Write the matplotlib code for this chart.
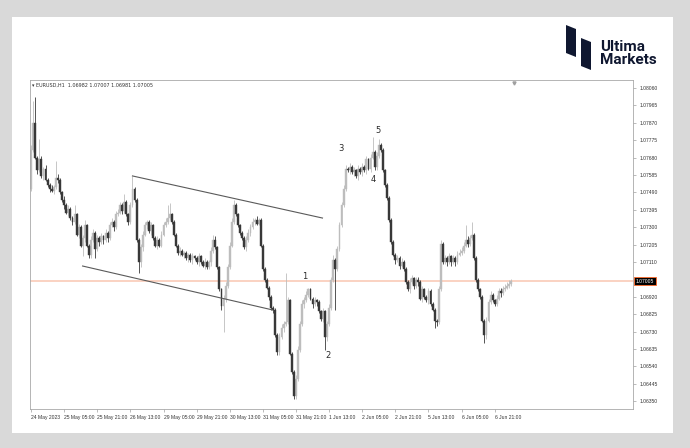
import matplotlib
matplotlib.use("Agg")
import matplotlib.pyplot as plt
import matplotlib.transforms as mtransforms
from matplotlib.patches import Rectangle, Polygon
import numpy as np

plt.rcParams["font.family"] = ["Liberation Sans", "DejaVu Sans"]

# EURUSD H1 candles (price)
first_open = 1.0751
closes = [
    1.0772, 1.0787, 1.0768, 1.0761, 1.0767, 1.0758, 1.0762, 1.0756, 1.0753, 1.0751,
    1.0750, 1.0752, 1.0757, 1.0756, 1.0749, 1.0745, 1.0742, 1.0738, 1.0740, 1.0735,
    1.0733, 1.0737, 1.0726, 1.0730, 1.0720, 1.0724, 1.0731, 1.0720, 1.0715, 1.0723,
    1.0727, 1.0718, 1.0724, 1.0722, 1.0725, 1.0723, 1.0727, 1.0724, 1.0731, 1.0733,
    1.0730, 1.0737, 1.0738, 1.0742, 1.0739, 1.0744, 1.0737, 1.0733, 1.0742, 1.0751,
    1.0745, 1.0723, 1.0711, 1.0719, 1.0726, 1.0731, 1.0733, 1.0728, 1.0731, 1.0724,
    1.0720, 1.0723, 1.0720, 1.0726, 1.0731, 1.0733, 1.0735, 1.0737, 1.0733, 1.0726,
    1.0720, 1.0716, 1.0717, 1.0715, 1.0716, 1.0713, 1.0715, 1.0712, 1.0714, 1.0713,
    1.0711, 1.0714, 1.0711, 1.0709, 1.0711, 1.0708, 1.0711, 1.0717, 1.0723, 1.0719,
    1.0708, 1.0696, 1.0687, 1.0691, 1.0698, 1.0708, 1.0720, 1.0733, 1.0742, 1.0737,
    1.0731, 1.0727, 1.0724, 1.0719, 1.0723, 1.0727, 1.0730, 1.0733, 1.0734, 1.0732,
    1.0734, 1.0720, 1.0707, 1.0701, 1.0697, 1.0692, 1.0686, 1.0685, 1.0671, 1.0662,
    1.0670, 1.0675, 1.0677, 1.0678, 1.0690, 1.0661, 1.0651, 1.0638, 1.0647, 1.0663,
    1.0677, 1.0688, 1.0690, 1.0693, 1.0696, 1.0691, 1.0688, 1.0690, 1.0689, 1.0684,
    1.0680, 1.0684, 1.0670, 1.0677, 1.0686, 1.0701, 1.0712, 1.0707, 1.0718, 1.0731,
    1.0742, 1.0751, 1.0762, 1.0761, 1.0763, 1.0760, 1.0761, 1.0758, 1.0762, 1.0760,
    1.0763, 1.0761, 1.0767, 1.0762, 1.0768, 1.0771, 1.0763, 1.0769, 1.0775, 1.0772,
    1.0761, 1.0753, 1.0746, 1.0734, 1.0722, 1.0715, 1.0712, 1.0713, 1.0709, 1.0711,
    1.0707, 1.0700, 1.0696, 1.0700, 1.0702, 1.0698, 1.0701, 1.0700, 1.0691, 1.0696,
    1.0692, 1.0690, 1.0695, 1.0688, 1.0685, 1.0679, 1.0678, 1.0696, 1.0721, 1.0711,
    1.0713, 1.0711, 1.0714, 1.0711, 1.0713, 1.0711, 1.0715, 1.0716, 1.0717, 1.0720,
    1.0723, 1.0721, 1.0724, 1.0726, 1.0713, 1.0701, 1.0696, 1.0692, 1.0679, 1.0671,
    1.0679, 1.0689, 1.0693, 1.0690, 1.0688, 1.0691, 1.0695, 1.0694, 1.0696, 1.0697,
    1.0698, 1.0699, 1.07005,
]
# wick lengths beyond the body, in pips
upper_wick = [
    3, 12, 14, 1, 11, 2, 1, 2, 1, 1, 2, 1, 9, 2, 1, 1, 2, 1, 2, 1,
    1, 5, 1, 2, 1, 2, 3, 1, 1, 2, 2, 1, 2, 1, 2, 1, 2, 1, 2, 2,
    1, 2, 2, 2, 1, 4, 1, 1, 2, 7, 1, 1, 1, 2, 2, 2, 1, 1, 2, 1,
    1, 2, 1, 2, 2, 2, 7, 6, 1, 1, 1, 1, 2, 1, 1, 1, 1, 1, 2, 1,
    1, 2, 1, 1, 2, 1, 1, 2, 3, 2, 1, 1, 1, 2, 2, 2, 2, 2, 3, 1,
    1, 1, 1, 1, 2, 2, 2, 2, 1, 2, 1, 1, 1, 1, 1, 1, 1, 1, 1, 1,
    2, 2, 2, 27, 2, 1, 1, 1, 2, 2, 2, 2, 2, 2, 1, 1, 1, 2, 1, 1,
    1, 2, 1, 2, 2, 2, 3, 1, 2, 2, 2, 2, 2, 1, 2, 1, 2, 1, 2, 1,
    2, 1, 2, 1, 2, 8, 1, 2, 3, 1, 1, 1, 1, 1, 1, 1, 1, 2, 1, 2,
    1, 1, 1, 2, 2, 1, 2, 2, 1, 2, 1, 1, 2, 1, 1, 1, 1, 2, 2, 1,
    2, 1, 2, 1, 2, 1, 2, 2, 2, 2, 8, 2, 2, 7, 1, 1, 1, 1, 1, 1,
    2, 2, 2, 1, 1, 2, 2, 2, 2, 2, 2, 2, 1,
]
lower_wick = [
    1, 1, 1, 2, 1, 1, 2, 1, 1, 2, 1, 2, 1, 2, 1, 1, 2, 1, 2, 1,
    2, 1, 1, 2, 1, 6, 2, 1, 2, 2, 1, 5, 1, 2, 1, 2, 1, 2, 1, 1,
    2, 1, 1, 1, 2, 1, 1, 2, 1, 1, 1, 1, 6, 3, 2, 1, 2, 1, 2, 1,
    1, 2, 1, 1, 1, 1, 1, 1, 1, 1, 1, 1, 2, 1, 2, 1, 2, 1, 2, 1,
    1, 2, 1, 1, 2, 1, 1, 2, 1, 1, 1, 1, 2, 14, 2, 1, 1, 1, 1, 1,
    1, 1, 1, 1, 2, 1, 2, 1, 2, 1, 1, 1, 1, 1, 1, 2, 1, 2, 1, 2,
    2, 1, 2, 1, 1, 1, 1, 2, 2, 1, 1, 1, 2, 1, 1, 1, 2, 1, 2, 1,
    1, 2, 7, 2, 1, 1, 1, 22, 1, 1, 1, 1, 1, 1, 2, 1, 2, 1, 2, 1,
    2, 1, 2, 1, 2, 1, 2, 2, 1, 1, 1, 1, 1, 1, 1, 1, 2, 1, 2, 1,
    1, 1, 1, 2, 1, 2, 1, 2, 1, 2, 1, 1, 2, 1, 1, 4, 2, 1, 1, 1,
    1, 2, 1, 2, 1, 2, 1, 1, 1, 1, 1, 2, 1, 1, 1, 1, 1, 1, 1, 4,
    2, 1, 1, 1, 1, 1, 1, 2, 1, 1, 1, 1, 1,
]

date_labels = ["24 May 2023", "25 May 05:00", "25 May 21:00", "26 May 13:00",
               "29 May 05:00", "29 May 21:00", "30 May 13:00", "31 May 05:00",
               "31 May 21:00", "1 Jun 13:00", "2 Jun 05:00", "2 Jun 21:00",
               "5 Jun 13:00", "6 Jun 05:00", "6 Jun 21:00"]
price_ticks = ["1.08060", "1.07965", "1.07870", "1.07775", "1.07680", "1.07585",
               "1.07490", "1.07395", "1.07300", "1.07205", "1.07110", "1.06920",
               "1.06825", "1.06730", "1.06635", "1.06540", "1.06445", "1.06350"]
last_price = 1.07005
header = "\u25be EURUSD,H1  1.06982 1.07007 1.06981 1.07005"

# channel lines (bar index, price)
upper_channel = ([49.0, 140.8], [1.0758, 1.0735])
lower_channel = ([24.9, 116.7], [1.07088, 1.06848])
# wave labels
wave_names = ["1", "2", "3", "4", "5"]
wave_bars = [132.1, 143.7, 149.5, 165.5, 167.4]
wave_prices = [1.0703, 1.0660, 1.0773, 1.0756, 1.0783]

closes = np.array(closes)
opens = np.concatenate([[first_open], closes[:-1]])
highs = np.maximum(opens, closes) + np.array(upper_wick) * 0.0001
lows = np.minimum(opens, closes) - np.array(lower_wick) * 0.0001
idx = np.arange(len(closes))
up = closes >= opens

bull = "#bdbdbd"
bear = "#383838"

fig = plt.figure(figsize=(6.9, 4.48), dpi=100)
fig.patch.set_facecolor("#d9d9d9")

bg = fig.add_axes([0, 0, 1, 1])
bg.set_xlim(0, 690)
bg.set_ylim(448, 0)
bg.axis("off")
bg.add_patch(Rectangle((12, 17), 661, 416, facecolor="white", edgecolor="none"))
navy = "#0f1730"
bg.add_patch(Polygon([(566, 25), (576, 29), (576, 57), (566, 53)], closed=True,
                     facecolor=navy, edgecolor="none"))
bg.add_patch(Polygon([(581, 38), (591, 42), (591, 70), (581, 66)], closed=True,
                     facecolor=navy, edgecolor="none"))
bg.text(600, 47, "Ultima", fontsize=11, fontweight="semibold", color=navy,
        family="Roboto", va="center", ha="left")
bg.text(600, 60, "Markets", fontsize=11, fontweight="semibold", color=navy,
        family="Roboto", va="center", ha="left")

ax = fig.add_axes([30 / 690, 1 - 409 / 448, 603 / 690, 329 / 448])
ax.set_facecolor("white")
ax.set_xlim(-0.5, 290.8)
ax.set_ylim(1.06307, 1.08104)

# price line
ax.axhline(last_price, color="#f9c6b1", lw=1.1, zorder=1)

# candles
ax.vlines(idx[up], lows[up], highs[up], color=bull, lw=0.6, zorder=2)
ax.vlines(idx[~up], lows[~up], highs[~up], color=bear, lw=0.6, zorder=3)
body_h = np.abs(closes - opens)
body_b = np.minimum(opens, closes)
ax.bar(idx[up], body_h[up], bottom=body_b[up], width=0.9, color=bull,
       edgecolor=bull, lw=0.3, zorder=2)
ax.bar(idx[~up], body_h[~up], bottom=body_b[~up], width=0.9, color=bear,
       edgecolor=bear, lw=0.3, zorder=3)

# channel
ax.plot(*upper_channel, color="#5a5a5a", lw=0.8, zorder=4)
ax.plot(*lower_channel, color="#5a5a5a", lw=0.8, zorder=4)

for name, b, p in zip(wave_names, wave_bars, wave_prices):
    ax.text(b, p, name, fontsize=6, color="#2a2a2a", ha="center", va="center",
            family="DejaVu Sans", zorder=5)

# axes styling
for s in ax.spines.values():
    s.set_color("#a8a8a8")
    s.set_linewidth(0.6)
ax.yaxis.tick_right()
ax.set_yticks([float(t) for t in price_ticks])
ax.set_yticklabels(price_ticks)
ax.tick_params(axis="y", length=2.5, width=0.4, color="#888888", pad=2,
               labelsize=3.6, labelcolor="#333333")
ax.set_xticks(np.arange(len(date_labels)) * 16)
ax.set_xticklabels(date_labels)
ax.tick_params(axis="x", length=2, width=0.4, color="#888888", pad=2,
               labelsize=3.6, labelcolor="#333333")
for lbl in ax.get_xticklabels():
    lbl.set_ha("left")

ax.text(0.004, 0.993, header, transform=ax.transAxes, fontsize=3.5,
        color="#333333", va="top", ha="left", family=["DejaVu Sans"])

trans = mtransforms.blended_transform_factory(ax.transAxes, ax.transData)
ax.text(1.005, last_price, "1.07005", transform=trans, fontsize=3.6, color="white",
        ha="left", va="center", zorder=6,
        bbox=dict(boxstyle="square,pad=0.35", fc="black", ec="#ff6a2a", lw=0.6))
ax.plot([233.2], [1.0809], marker="v", ms=2.2, color="#a0a0a0", clip_on=False, zorder=6)

fig.savefig("out.png", dpi=100, facecolor=fig.get_facecolor())
